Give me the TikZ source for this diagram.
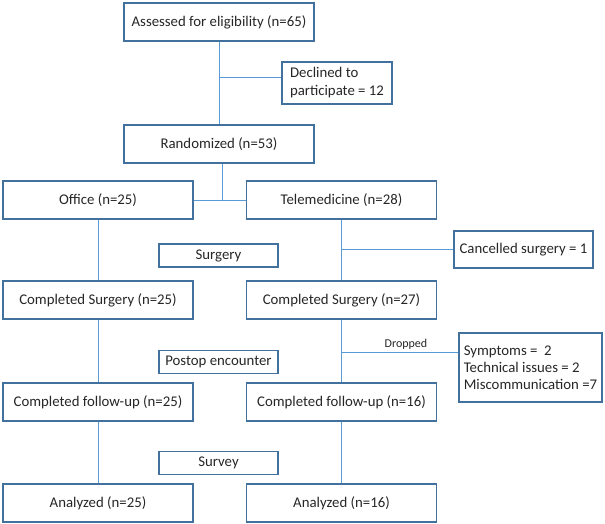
\documentclass[tikz,border=0pt]{standalone}
\usepackage{fontspec}
\setmainfont{Carlito}
\usetikzlibrary{positioning}
\definecolor{boxblue}{HTML}{41719C}
\definecolor{lineblue}{HTML}{5B9BD5}

\begin{document}
\begin{tikzpicture}[x=1pt,y=-1pt,
			box/.style={draw=boxblue,line width=1.4pt,minimum width=190pt,minimum height=38pt,inner sep=0,text=black!85,font=\fontsize{14.8}{18}\selectfont},
			side/.style={box,minimum width=0,align=left},
			stagebox/.style={box,minimum width=119pt,minimum height=23pt},
			link/.style={draw=lineblue,line width=0.8pt}]
			\useasboundingbox (0,0) rectangle (605,524);
			\node[box] (assess) at (219,22) {Assessed for eligibility (n=65)};
			\node[side,minimum width=110pt,minimum height=42pt] (decl) at (337,83) {Declined to\\participate = 12};
			\node[box] (rand) at (219,144) {Randomized (n=53)};
			\node[box] (office) at (98,200) {Office (n=25)};
			\node[box] (tele) at (341.5,200) {Telemedicine (n=28)};
			\node[side,minimum width=139pt,minimum height=37pt] (cancel) at (523.5,249.5) {Cancelled surgery = 1};
			\node[stagebox] (surg) at (218.5,255.5) {Surgery};
			\node[box] (cs1) at (98,300) {Completed Surgery (n=25)};
			\node[box] (cs2) at (341.5,300) {Completed Surgery (n=27)};
			\node[side,minimum width=143pt,minimum height=69pt,font=\fontsize{14.8}{17}\selectfont] (drop) at (530.5,367.5) {Symptoms =~ 2\\Technical issues = 2\\Miscommunication =7};
			\node[stagebox] (postop) at (218.5,362) {Postop encounter};
			\node[box] (fu1) at (98,402) {Completed follow-up (n=25)};
			\node[box] (fu2) at (341.5,402) {Completed follow-up (n=16)};
			\node[stagebox] (survey) at (218.5,463) {Survey};
			\node[box] (an1) at (98,503) {Analyzed (n=25)};
			\node[box] (an2) at (341.5,503) {Analyzed (n=16)};
			\coordinate (dj) at (219,77); \coordinate (rj) at (222,200); \coordinate (xj) at (342,352);
			\draw[link] (assess) -- (rand); \draw[link] (dj) -- (decl.west |- dj);
			\draw[link] (rand.south -| rj) -- (rj); \draw[link] (office) -- (tele);
			\draw[link] (office) -- (cs1); \draw[link] (cs1) -- (fu1); \draw[link] (fu1) -- (an1);
			\draw[link] (tele) -- (cs2); \draw[link] (cs2) -- (fu2); \draw[link] (fu2) -- (an2);
			\draw[link] (tele.south |- cancel.west) -- (cancel.west);
			\draw[link] (xj) -- node[above,pos=0.55,font=\fontsize{12}{14}\selectfont,text=black!85,inner sep=2pt] (dlbl) {Dropped} (drop.west |- xj);
		\end{tikzpicture}
\end{document}
